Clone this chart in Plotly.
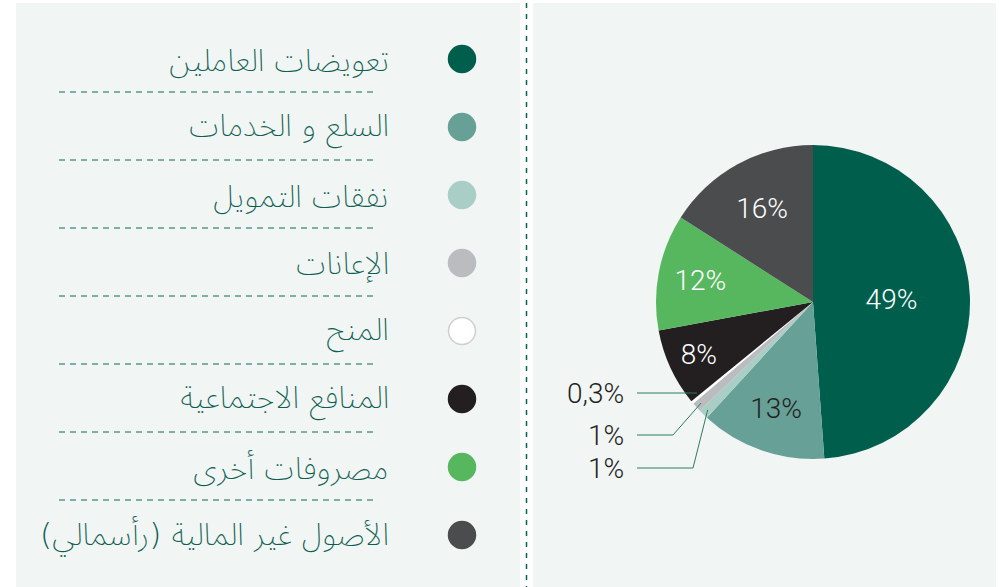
import math
import plotly.graph_objects as go

# ---- data ----
categories = [
    "تعويضات العاملين",
    "السلع و الخدمات",
    "نفقات التمويل",
    "الإعانات",
    "المنح",
    "المنافع الاجتماعية",
    "مصروفات أخرى",
    "الأصول غير المالية (رأسمالي)",
]
values = [49, 13, 1, 1, 0.3, 8, 12, 16]
value_labels = ["49%", "13%", "1%", "1%", "0,3%", "8%", "12%", "16%"]
colors = ["#005e4d", "#67a096", "#a9cec6", "#bbbcc0", "#ffffff", "#231f20", "#57b75f", "#4b4c4e"]
text_colors = ["#ffffff", "#231f20", "#231f20", "#231f20", "#231f20", "#ffffff", "#ffffff", "#ffffff"]

# slices labelled outside the pie (index order: white, gray, light teal)
outside_idx = [4, 3, 2]

W, H = 1000, 587
BG = "#f1f5f4"
TXT = "#0d5e50"
LINE_G = "#0b6b55"

# pie geometry in pixels
CX, CY, R = 813, 302, 157

fig = go.Figure()

fig.add_trace(go.Pie(
    values=values,
    labels=categories,
    text=[t if i not in outside_idx else "" for i, t in enumerate(value_labels)],
    textinfo="text",
    textposition=["inside" if i not in outside_idx else "none" for i in range(len(values))],
    insidetextorientation="horizontal",
    textfont=dict(family="Roboto", size=28, color=text_colors, weight=300),
    marker=dict(colors=colors, line=dict(color="#ffffff", width=0)),
    sort=False,
    direction="clockwise",
    rotation=0,
    showlegend=False,
    hoverinfo="label+percent",
    domain=dict(x=[(CX - R) / W, (CX + R) / W], y=[(H - CY - R) / H, (H - CY + R) / H]),
))

# legend markers on a pixel-space axis
n = len(categories)
ys = [59 + 68 * i for i in range(n)]
fig.add_trace(go.Scatter(
    x=[462] * n, y=ys, mode="markers",
    marker=dict(size=27, color=colors,
                line=dict(color=["#cfcfcf" if c == "#ffffff" else c for c in colors], width=1.5)),
    showlegend=False, hoverinfo="skip", xaxis="x", yaxis="y",
))

shapes = []
# panels
shapes.append(dict(type="rect", xref="x", yref="y", x0=16, x1=520, y0=3, y1=H, fillcolor=BG,
                   line=dict(width=0), layer="below"))
shapes.append(dict(type="rect", xref="x", yref="y", x0=533, x1=996, y0=3, y1=H, fillcolor=BG,
                   line=dict(width=0), layer="below"))
# vertical dashed divider
shapes.append(dict(type="line", xref="x", yref="y", x0=526.5, x1=526.5, y0=3, y1=H,
                   line=dict(color="#00664f", width=1.5, dash="5px,6px")))

annotations = []
for i, (lab, y) in enumerate(zip(categories, ys)):
    annotations.append(dict(xref="x", yref="y", x=391, y=y + 1, text=lab, showarrow=False,
                            xanchor="right", yanchor="middle",
                            font=dict(family="DejaVu Sans, Noto Sans Arabic, sans-serif", size=31,
                                      color=TXT, weight=200)))
    if i < n - 1:
        shapes.append(dict(type="line", xref="x", yref="y", x0=59, x1=376, y0=y + 33, y1=y + 33,
                           line=dict(color=LINE_G, width=1, dash="6px,5px")))

# outside labels with leader lines computed from slice mid-angles
total = sum(values)
cum = [sum(values[:i]) for i in range(n)]
label_y = [393, 435, 468]
elbow_x = [None, 673, 693]
for k, idx in enumerate(outside_idx):
    mid = (cum[idx] + values[idx] / 2) / total * 2 * math.pi
    px = CX + 0.96 * R * math.sin(mid)
    py = CY - 0.96 * R * math.cos(mid)
    ly = label_y[k]
    if elbow_x[k] is None:
        path = f"M {px:.1f} {ly} L 637 {ly}"
    else:
        path = f"M {px:.1f} {py:.1f} L {elbow_x[k]} {ly} L 637 {ly}"
    shapes.append(dict(type="path", xref="x", yref="y", path=path, line=dict(color="#2f7d5f", width=1)))
    annotations.append(dict(xref="x", yref="y", x=626, y=ly, text=value_labels[idx], showarrow=False,
                            xanchor="right", yanchor="middle",
                            font=dict(family="Roboto", size=28, color="#231f20", weight=300)))

fig.update_layout(
    width=W, height=H,
    margin=dict(l=0, r=0, t=0, b=0),
    paper_bgcolor="#ffffff",
    plot_bgcolor="rgba(0,0,0,0)",
    xaxis=dict(range=[0, W], domain=[0, 1], visible=False, fixedrange=True),
    yaxis=dict(range=[H, 0], domain=[0, 1], visible=False, fixedrange=True),
    shapes=shapes,
    annotations=annotations,
)

fig.write_html("out.html", config={"displayModeBar": False},
               post_script="document.body.style.margin='0';document.body.style.overflow='hidden';")
